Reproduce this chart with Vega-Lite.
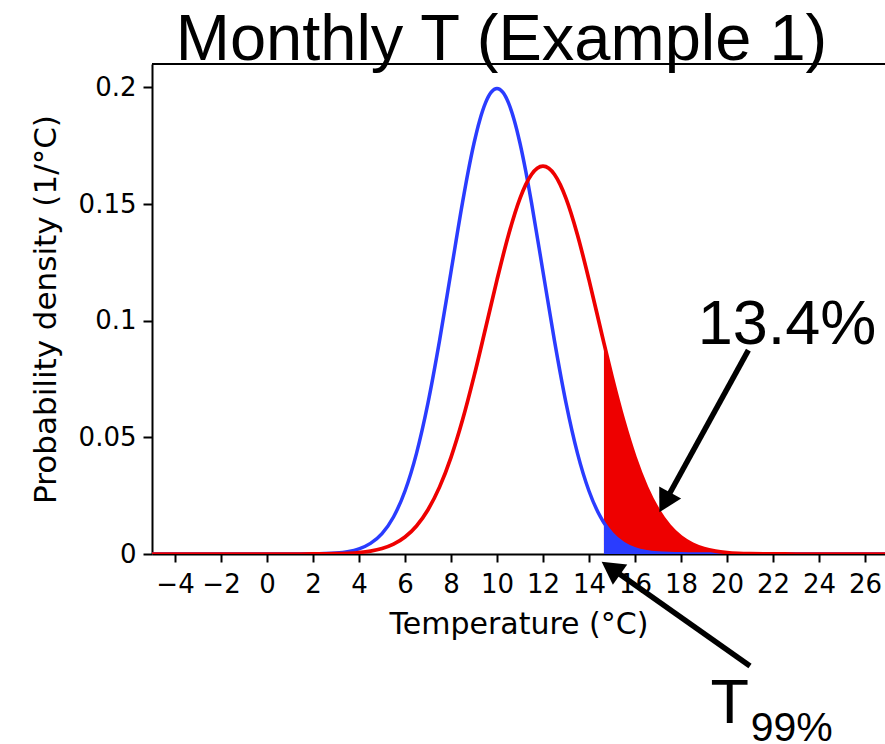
{
  "$schema": "https://vega.github.io/schema/vega-lite/v6.json",
  "autosize": {"type": "none"},
  "padding": {"left": 152, "top": 64, "right": 0, "bottom": 190},
  "width": 733,
  "height": 490,
  "background": "white",
  "title": {
    "text": "Monthly T (Example 1)",
    "font": "Liberation Sans",
    "fontSize": 65,
    "fontWeight": "normal",
    "color": "black",
    "anchor": "middle",
    "frame": "group",
    "baseline": "alphabetic",
    "offset": 1,
    "dx": -17,
    "dy": 63
  },
  "datasets": {
    "curves": [
      {"series": "blue", "t": -5, "density": 0},
      {"series": "blue", "t": 0, "density": 0.000001},
      {"series": "blue", "t": 1, "density": 0.000008},
      {"series": "blue", "t": 2, "density": 0.000067},
      {"series": "blue", "t": 2.5, "density": 0.000176},
      {"series": "blue", "t": 3, "density": 0.000436},
      {"series": "blue", "t": 3.5, "density": 0.001014},
      {"series": "blue", "t": 4, "density": 0.002216},
      {"series": "blue", "t": 4.5, "density": 0.004547},
      {"series": "blue", "t": 5, "density": 0.008764},
      {"series": "blue", "t": 5.5, "density": 0.015874},
      {"series": "blue", "t": 6, "density": 0.026995},
      {"series": "blue", "t": 6.5, "density": 0.043139},
      {"series": "blue", "t": 7, "density": 0.064759},
      {"series": "blue", "t": 7.5, "density": 0.091325},
      {"series": "blue", "t": 8, "density": 0.120985},
      {"series": "blue", "t": 8.5, "density": 0.150569},
      {"series": "blue", "t": 8.75, "density": 0.16408},
      {"series": "blue", "t": 9, "density": 0.176033},
      {"series": "blue", "t": 9.25, "density": 0.185928},
      {"series": "blue", "t": 9.5, "density": 0.193333},
      {"series": "blue", "t": 9.75, "density": 0.197919},
      {"series": "blue", "t": 10, "density": 0.199471},
      {"series": "blue", "t": 10.25, "density": 0.197919},
      {"series": "blue", "t": 10.5, "density": 0.193333},
      {"series": "blue", "t": 10.75, "density": 0.185928},
      {"series": "blue", "t": 11, "density": 0.176033},
      {"series": "blue", "t": 11.25, "density": 0.16408},
      {"series": "blue", "t": 11.5, "density": 0.150569},
      {"series": "blue", "t": 12, "density": 0.120985},
      {"series": "blue", "t": 12.5, "density": 0.091325},
      {"series": "blue", "t": 13, "density": 0.064759},
      {"series": "blue", "t": 13.5, "density": 0.043139},
      {"series": "blue", "t": 14, "density": 0.026995},
      {"series": "blue", "t": 14.5, "density": 0.015874},
      {"series": "blue", "t": 14.65, "density": 0.013366},
      {"series": "blue", "t": 15, "density": 0.008764},
      {"series": "blue", "t": 15.5, "density": 0.004547},
      {"series": "blue", "t": 16, "density": 0.002216},
      {"series": "blue", "t": 16.5, "density": 0.001014},
      {"series": "blue", "t": 17, "density": 0.000436},
      {"series": "blue", "t": 17.5, "density": 0.000176},
      {"series": "blue", "t": 18, "density": 0.000067},
      {"series": "blue", "t": 19, "density": 0.000008},
      {"series": "blue", "t": 20, "density": 0.000001},
      {"series": "blue", "t": 27, "density": 0},
      {"series": "red", "t": -5, "density": 0},
      {"series": "red", "t": 1, "density": 0.000005},
      {"series": "red", "t": 2, "density": 0.000028},
      {"series": "red", "t": 3, "density": 0.000147},
      {"series": "red", "t": 3.5, "density": 0.000314},
      {"series": "red", "t": 4, "density": 0.000643},
      {"series": "red", "t": 4.5, "density": 0.001259},
      {"series": "red", "t": 5, "density": 0.002363},
      {"series": "red", "t": 5.5, "density": 0.004245},
      {"series": "red", "t": 6, "density": 0.007304},
      {"series": "red", "t": 6.5, "density": 0.012028},
      {"series": "red", "t": 7, "density": 0.018979},
      {"series": "red", "t": 7.5, "density": 0.028661},
      {"series": "red", "t": 8, "density": 0.041449},
      {"series": "red", "t": 8.5, "density": 0.057395},
      {"series": "red", "t": 9, "density": 0.076104},
      {"series": "red", "t": 9.5, "density": 0.096623},
      {"series": "red", "t": 10, "density": 0.117464},
      {"series": "red", "t": 10.5, "density": 0.136734},
      {"series": "red", "t": 11, "density": 0.152405},
      {"series": "red", "t": 11.25, "density": 0.158305},
      {"series": "red", "t": 11.5, "density": 0.162657},
      {"series": "red", "t": 11.75, "density": 0.165327},
      {"series": "red", "t": 12, "density": 0.166226},
      {"series": "red", "t": 12.25, "density": 0.165327},
      {"series": "red", "t": 12.5, "density": 0.162657},
      {"series": "red", "t": 12.75, "density": 0.158305},
      {"series": "red", "t": 13, "density": 0.152405},
      {"series": "red", "t": 13.5, "density": 0.136734},
      {"series": "red", "t": 14, "density": 0.117464},
      {"series": "red", "t": 14.5, "density": 0.096623},
      {"series": "red", "t": 14.65, "density": 0.090356},
      {"series": "red", "t": 15, "density": 0.076104},
      {"series": "red", "t": 15.5, "density": 0.057395},
      {"series": "red", "t": 16, "density": 0.041449},
      {"series": "red", "t": 16.5, "density": 0.028661},
      {"series": "red", "t": 17, "density": 0.018979},
      {"series": "red", "t": 17.5, "density": 0.012028},
      {"series": "red", "t": 18, "density": 0.007304},
      {"series": "red", "t": 18.5, "density": 0.004245},
      {"series": "red", "t": 19, "density": 0.002363},
      {"series": "red", "t": 19.5, "density": 0.001259},
      {"series": "red", "t": 20, "density": 0.000643},
      {"series": "red", "t": 20.5, "density": 0.000314},
      {"series": "red", "t": 21, "density": 0.000147},
      {"series": "red", "t": 22, "density": 0.000028},
      {"series": "red", "t": 23, "density": 0.000005},
      {"series": "red", "t": 27, "density": 0}
    ],
    "shafts": [
      {"x": 20.93, "y": 0.0874, "x2": 17.5, "y2": 0.0258},
      {"x": 21.0, "y": -0.048, "x2": 15.31, "y2": -0.0085}
    ],
    "heads": [
      {"x": 17.06, "y": 0.0179, "angle": 208.7},
      {"x": 14.55, "y": -0.0033, "angle": 305.1}
    ],
    "labels": [
      {"label": "13.4%", "x": 22.61, "y": 0.09, "size": "big"},
      {"label": "T", "x": 20.12, "y": -0.0723, "size": "big"},
      {"label": "99%", "x": 21.03, "y": -0.0802, "size": "sub"}
    ],
    "frame": [{"top": 0.21}]
  },
  "layer": [
    {
      "data": {"name": "curves"},
      "transform": [{"filter": "datum.series === 'red' && datum.t >= 14.65"}],
      "mark": {"type": "area", "interpolate": "monotone", "color": "#ee0000", "clip": true},
      "encoding": {
        "x": {
          "field": "t", "type": "quantitative",
          "scale": {"domain": [-5, 26.87], "nice": false, "zero": false},
          "axis": {
            "values": [-4, -2, 0, 2, 4, 6, 8, 10, 12, 14, 16, 18, 20, 22, 24, 26],
            "title": "Temperature (°C)",
            "tickSize": 8,
            "labelPadding": 9,
            "titlePadding": 12,
            "labelFlush": false,
            "labelOverlap": false
          }
        },
        "y": {
          "field": "density", "type": "quantitative",
          "scale": {"domain": [0, 0.21], "nice": false},
          "axis": {
            "values": [0, 0.05, 0.1, 0.15, 0.2],
            "format": "~g",
            "title": "Probability density (1/°C)",
            "titleFontSize": 31,
            "tickSize": 9,
            "labelPadding": 7,
            "titlePadding": 16,
            "labelFlush": false,
            "labelOverlap": false
          }
        }
      }
    },
    {
      "data": {"name": "curves"},
      "transform": [{"filter": "datum.series === 'blue' && datum.t >= 14.65"}],
      "mark": {"type": "area", "interpolate": "monotone", "color": "#2a3cff", "clip": true},
      "encoding": {
        "x": {"field": "t", "type": "quantitative"},
        "y": {"field": "density", "type": "quantitative"}
      }
    },
    {
      "data": {"name": "curves"},
      "transform": [{"filter": "datum.series === 'blue'"}],
      "mark": {"type": "line", "interpolate": "monotone", "color": "#2a3cff", "strokeWidth": 3.5, "clip": true},
      "encoding": {
        "x": {"field": "t", "type": "quantitative"},
        "y": {"field": "density", "type": "quantitative"}
      }
    },
    {
      "data": {"name": "curves"},
      "transform": [{"filter": "datum.series === 'red'"}],
      "mark": {"type": "line", "interpolate": "monotone", "color": "#ee0000", "strokeWidth": 3.7, "clip": true},
      "encoding": {
        "x": {"field": "t", "type": "quantitative"},
        "y": {"field": "density", "type": "quantitative"}
      }
    },
    {
      "data": {"name": "frame"},
      "mark": {"type": "rule", "color": "black", "strokeWidth": 2},
      "encoding": {
        "y": {"field": "top", "type": "quantitative"}
      }
    },
    {
      "data": {"name": "shafts"},
      "mark": {"type": "rule", "color": "black", "strokeWidth": 5.5, "strokeCap": "butt"},
      "encoding": {
        "x": {"field": "x", "type": "quantitative"},
        "y": {"field": "y", "type": "quantitative"},
        "x2": {"field": "x2"},
        "y2": {"field": "y2"}
      }
    },
    {
      "data": {"name": "heads"},
      "mark": {"type": "point", "shape": "M0,0L-1,1.8L1,1.8Z", "filled": true, "color": "black", "opacity": 1, "size": 625, "strokeWidth": 0},
      "encoding": {
        "x": {"field": "x", "type": "quantitative"},
        "y": {"field": "y", "type": "quantitative"},
        "angle": {"field": "angle", "type": "quantitative", "scale": null}
      }
    },
    {
      "data": {"name": "labels"},
      "transform": [{"filter": "datum.size === 'big'"}],
      "mark": {"type": "text", "font": "Liberation Sans", "fontSize": 63, "color": "black", "baseline": "alphabetic", "align": "center"},
      "encoding": {
        "x": {"field": "x", "type": "quantitative"},
        "y": {"field": "y", "type": "quantitative"},
        "text": {"field": "label"}
      }
    },
    {
      "data": {"name": "labels"},
      "transform": [{"filter": "datum.size === 'sub'"}],
      "mark": {"type": "text", "font": "Liberation Sans", "fontSize": 41, "color": "black", "baseline": "alphabetic", "align": "left"},
      "encoding": {
        "x": {"field": "x", "type": "quantitative"},
        "y": {"field": "y", "type": "quantitative"},
        "text": {"field": "label"}
      }
    }
  ],
  "config": {
    "view": {"stroke": null},
    "axis": {
      "grid": false,
      "domainColor": "black",
      "domainWidth": 2,
      "tickColor": "black",
      "tickWidth": 2,
      "labelColor": "black",
      "titleColor": "black",
      "labelFont": "DejaVu Sans",
      "titleFont": "DejaVu Sans",
      "labelFontSize": 26,
      "titleFontSize": 30,
      "titleFontWeight": "normal"
    }
  }
}
